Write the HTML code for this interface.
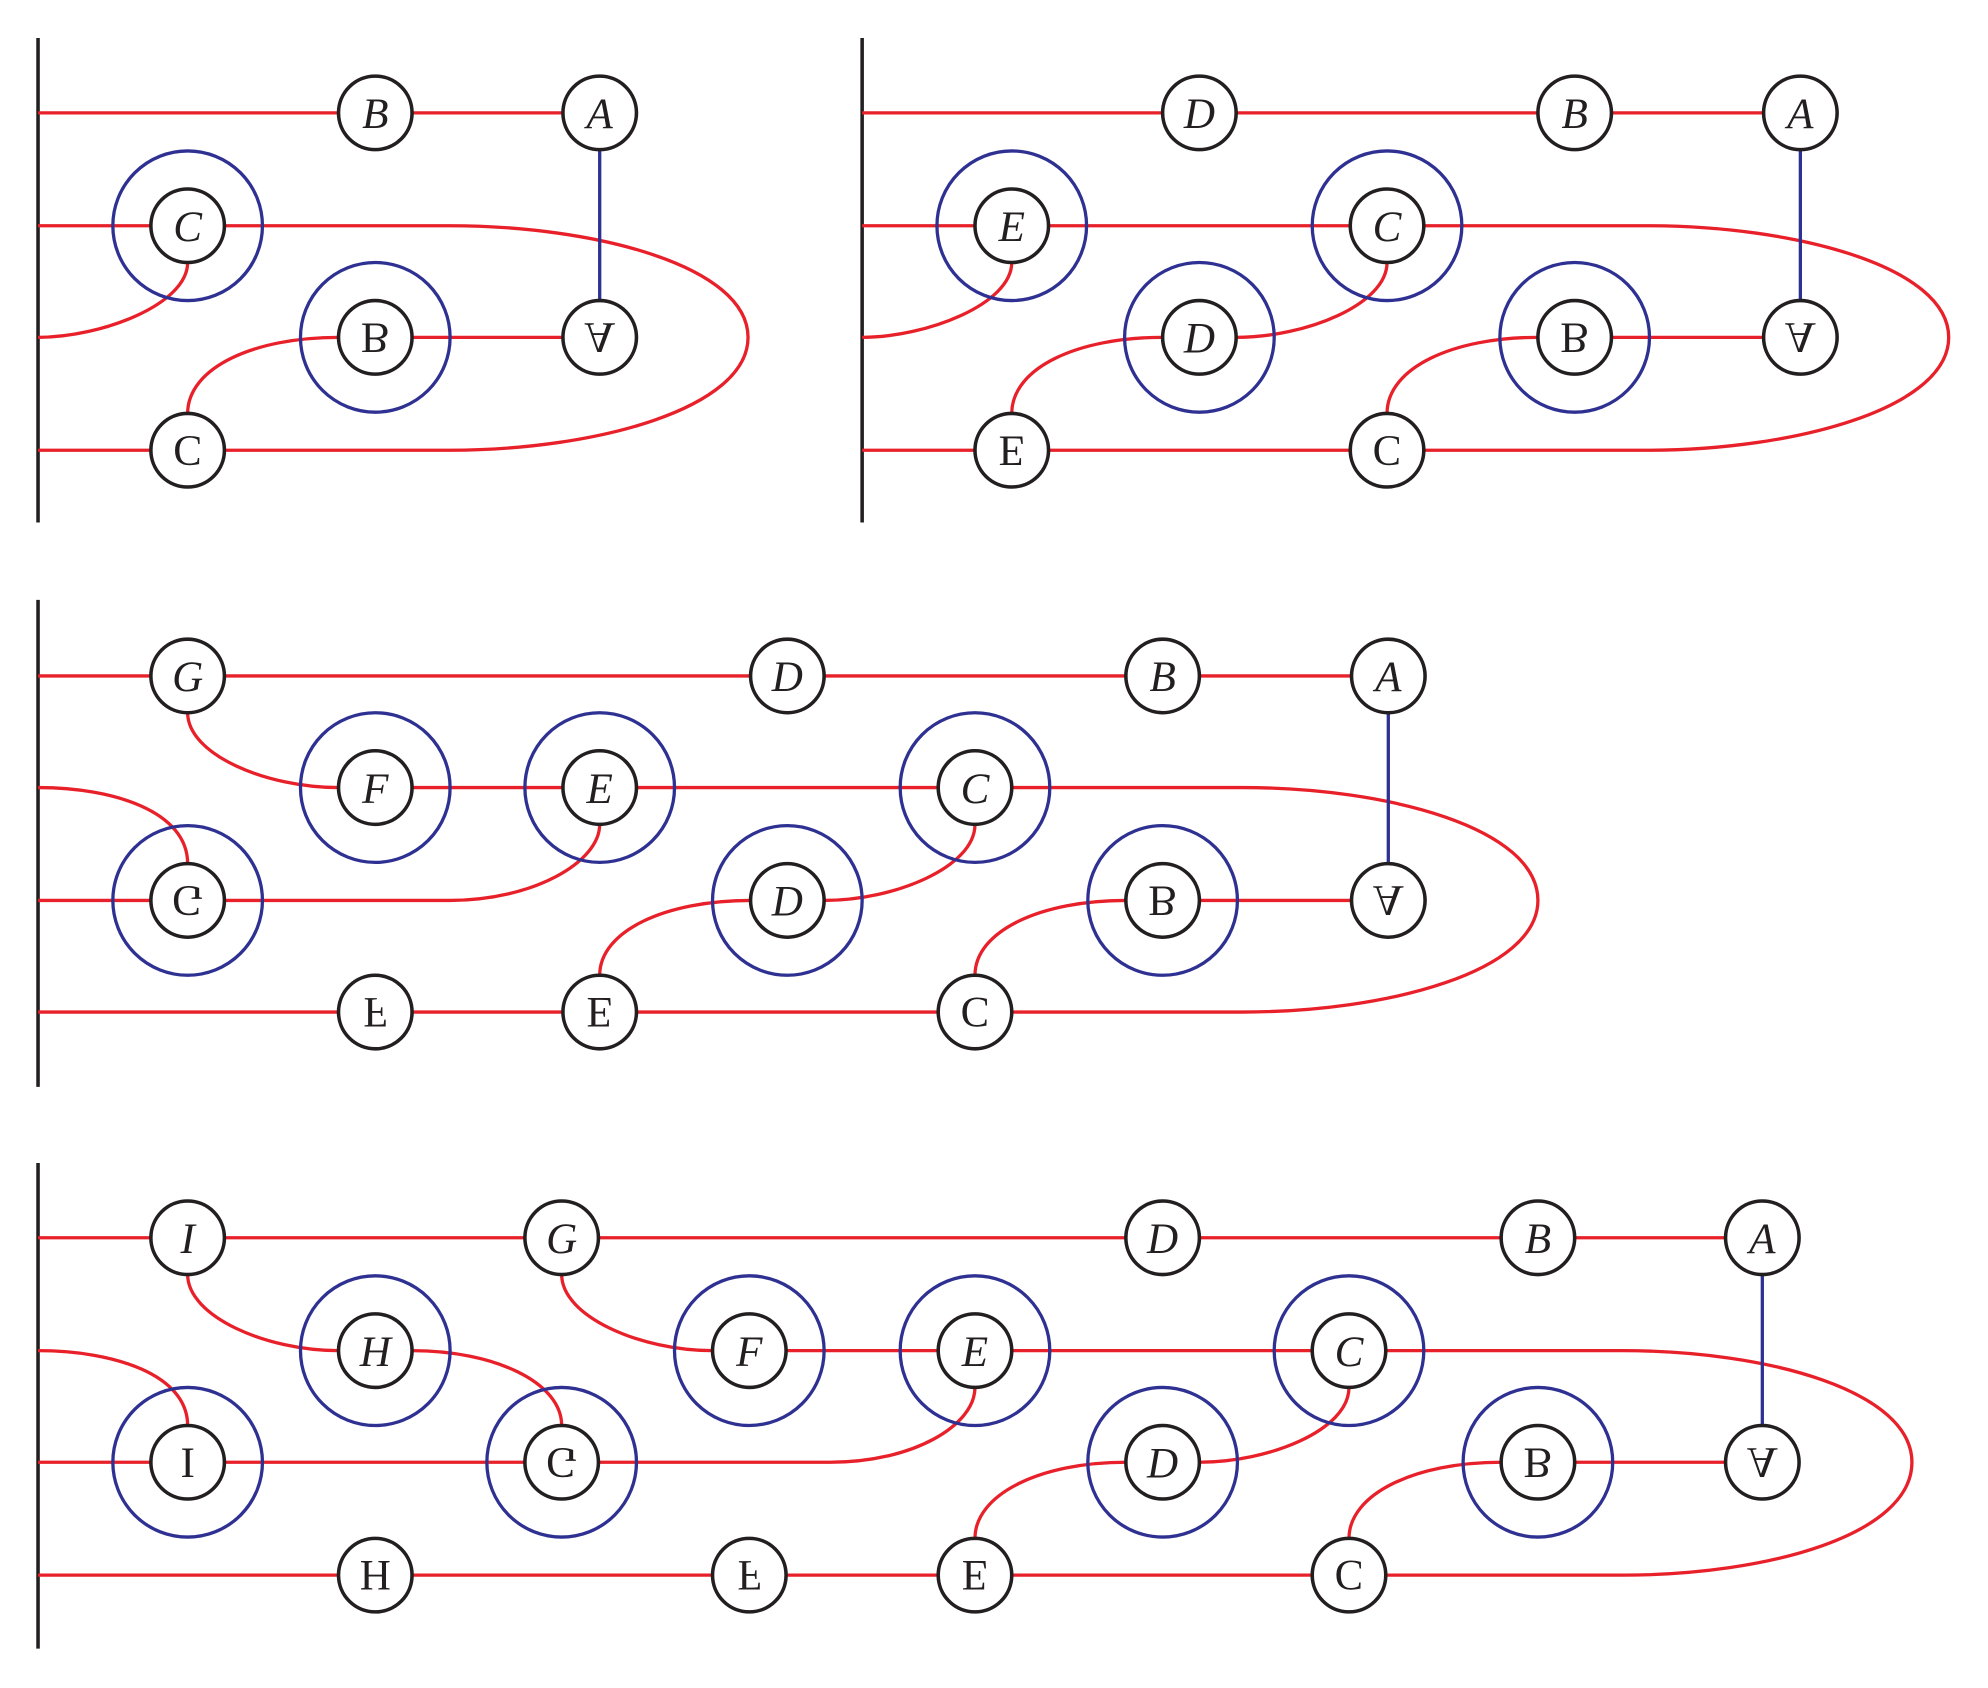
<!DOCTYPE html>
<html><head><meta charset="utf-8"><style>
html,body{margin:0;padding:0;background:#fff;}
svg{display:block;}
.r{stroke:#e8202a;stroke-width:2.6;fill:none;}
.b{stroke:#2e3192;stroke-width:2.6;fill:none;}
.k{stroke:#231f20;stroke-width:2.8;fill:none;}
.n{stroke:#231f20;stroke-width:2.8;fill:#fff;}
text{font-family:"Liberation Serif",serif;font-size:34px;fill:#231f20;text-anchor:middle;}
.i{font-style:italic;}
</style></head><body>
<svg width="1988" height="1688" viewBox="0 0 1568 1331" preserveAspectRatio="none" xmlns="http://www.w3.org/2000/svg">
<!-- Panel 1 -->
<line class="k" x1="30" y1="30" x2="30" y2="412"/>
<path class="r" d="M30,89H473"/>
<path class="r" d="M30,178H355C470,178 590,210 590,266C590,322 470,355 355,355H30"/>
<path class="r" d="M148,207C148,240 80,266 30,266"/>
<path class="r" d="M296,266H473"/>
<path class="r" d="M148,326C148,290 200,266 267,266"/>
<line class="b" x1="473" y1="89" x2="473" y2="266"/>
<circle class="b" cx="148" cy="178" r="59"/><circle class="b" cx="296" cy="266" r="59"/>
<!-- Panel 2 -->
<line class="k" x1="680" y1="30" x2="680" y2="412"/>
<path class="r" d="M680,89H1420"/>
<path class="r" d="M680,178H1300C1415,178 1537,210 1537,266C1537,322 1415,355 1300,355H680"/>
<path class="r" d="M798,207C798,240 730,266 680,266"/>
<path class="r" d="M1094,207C1094,240 1030,266 975,266"/>
<path class="r" d="M798,326C798,290 850,266 917,266"/>
<path class="r" d="M1094,326C1094,290 1146,266 1213,266"/>
<path class="r" d="M1242,266H1420"/>
<line class="b" x1="1420" y1="89" x2="1420" y2="266"/>
<circle class="b" cx="798" cy="178" r="59"/><circle class="b" cx="1094" cy="178" r="59"/>
<circle class="b" cx="946" cy="266" r="59"/><circle class="b" cx="1242" cy="266" r="59"/>
<!-- Panel 3 -->
<line class="k" x1="30" y1="473" x2="30" y2="857"/>
<path class="r" d="M30,533H1095"/>
<path class="r" d="M148,562C148,595 210,621 267,621"/>
<path class="r" d="M296,621H980C1095,621 1213,653 1213,710C1213,766 1095,798 980,798H30"/>
<path class="r" d="M30,621C90,621 148,640 148,681"/>
<path class="r" d="M30,710H355C420,710 473,680 473,650"/>
<path class="r" d="M769,650C769,684 705,710 650,710"/>
<path class="r" d="M473,769C473,734 525,710 592,710"/>
<path class="r" d="M769,769C769,734 821,710 888,710"/>
<path class="r" d="M917,710H1095"/>
<line class="b" x1="1095" y1="533" x2="1095" y2="710"/>
<circle class="b" cx="296" cy="621" r="59"/><circle class="b" cx="473" cy="621" r="59"/><circle class="b" cx="769" cy="621" r="59"/>
<circle class="b" cx="148" cy="710" r="59"/><circle class="b" cx="621" cy="710" r="59"/><circle class="b" cx="917" cy="710" r="59"/>
<!-- Panel 4 -->
<line class="k" x1="30" y1="917" x2="30" y2="1300"/>
<path class="r" d="M30,976H1390"/>
<path class="r" d="M148,1005C148,1038 210,1065 267,1065"/>
<path class="r" d="M443,1005C443,1038 505,1065 562,1065"/>
<path class="r" d="M325,1065C390,1065 443,1090 443,1124"/>
<path class="r" d="M591,1065H1280C1395,1065 1508,1097 1508,1153C1508,1210 1395,1242 1280,1242H30"/>
<path class="r" d="M30,1065C90,1065 148,1084 148,1124"/>
<path class="r" d="M30,1153H655C720,1153 769,1124 769,1094"/>
<path class="r" d="M1064,1094C1064,1128 1000,1153 946,1153"/>
<path class="r" d="M769,1213C769,1178 821,1153 888,1153"/>
<path class="r" d="M1064,1213C1064,1178 1116,1153 1184,1153"/>
<path class="r" d="M1213,1153H1390"/>
<line class="b" x1="1390" y1="976" x2="1390" y2="1153"/>
<circle class="b" cx="296" cy="1065" r="59"/><circle class="b" cx="591" cy="1065" r="59"/><circle class="b" cx="769" cy="1065" r="59"/><circle class="b" cx="1064" cy="1065" r="59"/>
<circle class="b" cx="148" cy="1153" r="59"/><circle class="b" cx="443" cy="1153" r="59"/><circle class="b" cx="917" cy="1153" r="59"/><circle class="b" cx="1213" cy="1153" r="59"/>

<g>
<circle class="n" cx="296" cy="89" r="29"/><text class="i" x="296" y="101">B</text>
<circle class="n" cx="473" cy="89" r="29"/><text class="i" x="473" y="101">A</text>
<circle class="n" cx="148" cy="178" r="29"/><text class="i" x="148" y="190">C</text>
<circle class="n" cx="946" cy="89" r="29"/><text class="i" x="946" y="101">D</text>
<circle class="n" cx="1242" cy="89" r="29"/><text class="i" x="1242" y="101">B</text>
<circle class="n" cx="1420" cy="89" r="29"/><text class="i" x="1420" y="101">A</text>
<circle class="n" cx="798" cy="178" r="29"/><text class="i" x="798" y="190">E</text>
<circle class="n" cx="1094" cy="178" r="29"/><text class="i" x="1094" y="190">C</text>
<circle class="n" cx="946" cy="266" r="29"/><text class="i" x="946" y="278">D</text>

<circle class="n" cx="148" cy="533" r="29"/><text class="i" x="148" y="545">G</text>
<circle class="n" cx="621" cy="533" r="29"/><text class="i" x="621" y="545">D</text>
<circle class="n" cx="917" cy="533" r="29"/><text class="i" x="917" y="545">B</text>
<circle class="n" cx="1095" cy="533" r="29"/><text class="i" x="1095" y="545">A</text>
<circle class="n" cx="296" cy="621" r="29"/><text class="i" x="296" y="633">F</text>
<circle class="n" cx="473" cy="621" r="29"/><text class="i" x="473" y="633">E</text>
<circle class="n" cx="769" cy="621" r="29"/><text class="i" x="769" y="633">C</text>
<circle class="n" cx="621" cy="710" r="29"/><text class="i" x="621" y="722">D</text>

<circle class="n" cx="148" cy="976" r="29"/><text class="i" x="148" y="988">I</text>
<circle class="n" cx="443" cy="976" r="29"/><text class="i" x="443" y="988">G</text>
<circle class="n" cx="917" cy="976" r="29"/><text class="i" x="917" y="988">D</text>
<circle class="n" cx="1213" cy="976" r="29"/><text class="i" x="1213" y="988">B</text>
<circle class="n" cx="1390" cy="976" r="29"/><text class="i" x="1390" y="988">A</text>
<circle class="n" cx="296" cy="1065" r="29"/><text class="i" x="296" y="1077">H</text>
<circle class="n" cx="591" cy="1065" r="29"/><text class="i" x="591" y="1077">F</text>
<circle class="n" cx="769" cy="1065" r="29"/><text class="i" x="769" y="1077">E</text>
<circle class="n" cx="1064" cy="1065" r="29"/><text class="i" x="1064" y="1077">C</text>
<circle class="n" cx="917" cy="1153" r="29"/><text class="i" x="917" y="1165">D</text>
</g>

<g>
<circle class="n" cx="296" cy="266" r="29"/><text transform="translate(296,266) scale(1,-1)" y="11">B</text>
<circle class="n" cx="473" cy="266" r="29"/><text transform="translate(473,266) scale(1,-1)" y="11">A</text>
<circle class="n" cx="148" cy="355" r="29"/><text transform="translate(148,355) scale(1,-1)" y="11">C</text>
<circle class="n" cx="1242" cy="266" r="29"/><text transform="translate(1242,266) scale(1,-1)" y="11">B</text>
<circle class="n" cx="1420" cy="266" r="29"/><text transform="translate(1420,266) scale(1,-1)" y="11">A</text>
<circle class="n" cx="798" cy="355" r="29"/><text transform="translate(798,355) scale(1,-1)" y="11">E</text>
<circle class="n" cx="1094" cy="355" r="29"/><text transform="translate(1094,355) scale(1,-1)" y="11">C</text>

<circle class="n" cx="148" cy="710" r="29"/><text transform="translate(148,710) scale(1,-1)" y="11">G</text>
<circle class="n" cx="917" cy="710" r="29"/><text transform="translate(917,710) scale(1,-1)" y="11">B</text>
<circle class="n" cx="1095" cy="710" r="29"/><text transform="translate(1095,710) scale(1,-1)" y="11">A</text>
<circle class="n" cx="296" cy="798" r="29"/><text transform="translate(296,798) scale(1,-1)" y="11">F</text>
<circle class="n" cx="473" cy="798" r="29"/><text transform="translate(473,798) scale(1,-1)" y="11">E</text>
<circle class="n" cx="769" cy="798" r="29"/><text transform="translate(769,798) scale(1,-1)" y="11">C</text>

<circle class="n" cx="148" cy="1153" r="29"/><text transform="translate(148,1153) scale(1,-1)" y="11">I</text>
<circle class="n" cx="443" cy="1153" r="29"/><text transform="translate(443,1153) scale(1,-1)" y="11">G</text>
<circle class="n" cx="1213" cy="1153" r="29"/><text transform="translate(1213,1153) scale(1,-1)" y="11">B</text>
<circle class="n" cx="1390" cy="1153" r="29"/><text transform="translate(1390,1153) scale(1,-1)" y="11">A</text>
<circle class="n" cx="296" cy="1242" r="29"/><text transform="translate(296,1242) scale(1,-1)" y="11">H</text>
<circle class="n" cx="591" cy="1242" r="29"/><text transform="translate(591,1242) scale(1,-1)" y="11">F</text>
<circle class="n" cx="769" cy="1242" r="29"/><text transform="translate(769,1242) scale(1,-1)" y="11">E</text>
<circle class="n" cx="1064" cy="1242" r="29"/><text transform="translate(1064,1242) scale(1,-1)" y="11">C</text>
</g>
</svg>
</body></html>
